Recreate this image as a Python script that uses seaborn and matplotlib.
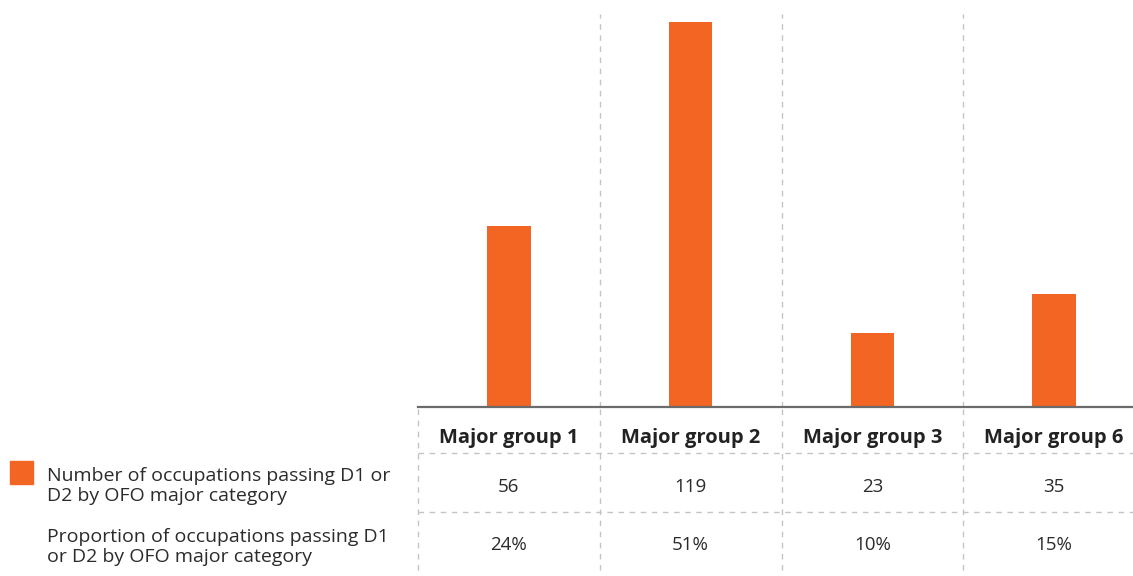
import matplotlib
matplotlib.use("Agg")
import matplotlib.pyplot as plt
import seaborn as sns
import pandas as pd

categories = ["Major group 1", "Major group 2", "Major group 3", "Major group 6"]
counts = [56, 119, 23, 35]
proportions = ["24%", "51%", "10%", "15%"]
series_labels = ["Number of occupations passing D1 or\nD2 by OFO major category",
                 "Proportion of occupations passing D1\nor D2 by OFO major category"]

sns.set_theme(style="white")
plt.rcParams['font.family'] = ['Open Sans', 'DejaVu Sans']

W, H = 1133, 576
fig = plt.figure(figsize=(W / 100, H / 100), dpi=100)

BAR_COLOR = "#F26522"
GRID = "#c4c4c4"
TEXT = "#2b2b2b"

def fx(px):
    return px / W

def fy(py):
    return 1 - py / H

left, right = 418, 1145
top, base = 14, 407
ax = fig.add_axes([fx(left), fy(base), fx(right - left), (base - top) / H])

df = pd.DataFrame({"cat": categories, "count": counts})
sns.barplot(data=df, x="cat", y="count", color=BAR_COLOR, width=0.24,
            saturation=1, linewidth=0, ax=ax)
ax.set_xlim(-0.5, 3.5)
ax.set_ylim(0, 121.5)
ax.set_xlabel("")
ax.set_ylabel("")
ax.set_xticks([])
ax.set_yticks([])
for s in ["top", "right", "left"]:
    ax.spines[s].set_visible(False)
ax.spines["bottom"].set_color("#6b6b6b")
ax.spines["bottom"].set_linewidth(1.6)
ax.spines["bottom"].set_zorder(5)
for xb in [0.5, 1.5, 2.5]:
    ax.axvline(xb, color=GRID, lw=1, ls=(0, (4, 4)), zorder=0)

# table axes
tb_bottom = 576
tax = fig.add_axes([fx(left), 0, fx(right - left), (tb_bottom - base) / H])
tax.set_xlim(-0.5, 3.5)
tax.set_ylim(tb_bottom, base)
tax.axis("off")
for xb in [-0.5, 0.5, 1.5, 2.5, 3.5]:
    tax.plot([xb, xb], [base + 2, tb_bottom], color=GRID, lw=1, ls=(0, (4, 4)),
             clip_on=False)
for yl in [453, 512]:
    tax.plot([-0.5, 3.5], [yl, yl], color=GRID, lw=1, ls=(0, (4, 4)), clip_on=False)

for i, c in enumerate(categories):
    tax.text(i, 438, c, ha="center", va="center", fontsize=14.5,
             fontweight="bold", color="#222222")
    tax.text(i, 487, str(counts[i]), ha="center", va="center", fontsize=13.5,
             color=TEXT)
    tax.text(i, 545, proportions[i], ha="center", va="center", fontsize=13.5,
             color=TEXT)

# legend / row labels
fig.patches.append(plt.Rectangle((fx(10), fy(484)), fx(23), 23 / H,
                                 transform=fig.transFigure, color=BAR_COLOR))
fig.text(fx(47), fy(486), series_labels[0], ha="left", va="center",
         fontsize=14, color=TEXT, linespacing=1.2)
fig.text(fx(47), fy(547), series_labels[1], ha="left", va="center",
         fontsize=14, color=TEXT, linespacing=1.2)

fig.savefig("out.png", dpi=100)
